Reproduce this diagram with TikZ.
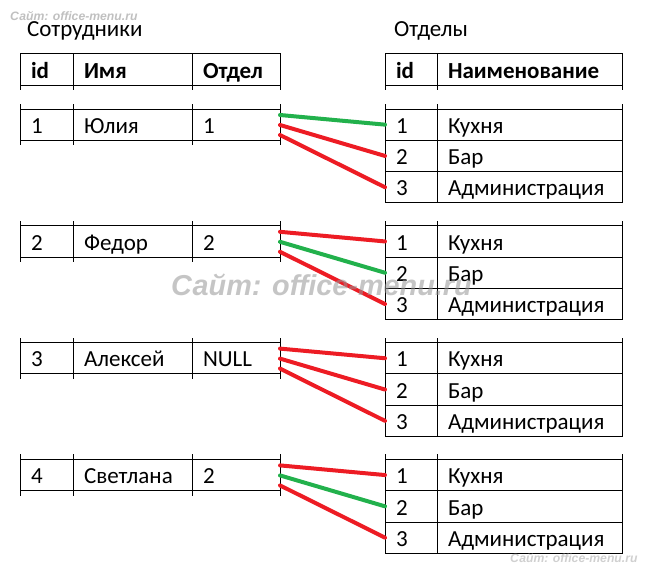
\documentclass[tikz,border=0pt]{standalone}
\usepackage{fontspec}
\setmainfont{Carlito}
\newfontfamily\wmfont{Liberation Sans}
\usetikzlibrary{positioning,calc}
\definecolor{okgreen}{RGB}{34,177,76}
\definecolor{badred}{RGB}{237,28,36}
\definecolor{wmgray}{RGB}{150,150,150}

\begin{document}
\begin{tikzpicture}[x=1pt,y=-1pt,
    cell/.style={draw,line width=1pt,anchor=north west,outer sep=0pt,
      minimum height=31.3pt,inner xsep=11pt,inner ysep=0pt,
      text width=#1,text height=19pt,text depth=1.7pt,align=left,
      font=\fontsize{23}{26}\selectfont},
    head/.style={cell=#1,font=\fontsize{23}{26}\selectfont\bfseries},
    stub/.style={line width=1pt},
    link/.style={line width=4pt,line cap=round,draw=badred},
    ok/.style={link,draw=okgreen},
    wmark/.style={anchor=base west,inner sep=0pt,text=wmgray,text opacity=#1},
  ]
  \useasboundingbox (0,0) rectangle (647,578);
  % titles
  \node[anchor=base west,inner sep=0pt,font=\fontsize{23}{26}\selectfont]
    (emp-title) at (27,37) {Сотрудники};
  \node[anchor=base west,inner sep=0pt,font=\fontsize{23}{26}\selectfont]
    (dep-title) at (394,37) {Отделы};
  % header rows
  \node[head=31pt]                       (h-id)   at (20,54) {id};
  \node[head=97pt,right=0pt of h-id]     (h-name) {Имя};
  \node[head=66pt,right=0pt of h-name]   (h-dep)  {Отдел};
  \node[head=30pt]                       (g-id)   at (385,54) {id};
  \node[head=163pt,right=0pt of g-id]    (g-name) {Наименование};
  \foreach \c in {h-id.south west,h-id.south east,h-name.south east,h-dep.south east,
                  g-id.south west,g-id.south east,g-name.south east}
    \draw[stub] (\c) -- ++(0,5);
  % one block per employee
  \foreach \k/\eid/\ename/\edep/\good in
      {0/1/Юлия/1/1, 1/2/Федор/2/2, 2/3/Алексей/NULL/0, 3/4/Светлана/2/2} {
    \node[cell=31pt]                       (e\k-id)   at (20,{109+116.8*\k}) {\eid};
    \node[cell=97pt,right=0pt of e\k-id]   (e\k-name) {\ename};
    \node[cell=66pt,right=0pt of e\k-name] (e\k-dep)  {\edep};
    \node[cell=30pt]                       (d\k-1) at (385,{109+116.8*\k}) {1};
    \node[cell=163pt,right=0pt of d\k-1]   (n\k-1) {Кухня};
    \node[cell=30pt,below=0pt of d\k-1]    (d\k-2) {2};
    \node[cell=163pt,right=0pt of d\k-2]   (n\k-2) {Бар};
    \node[cell=30pt,below=0pt of d\k-2]    (d\k-3) {3};
    \node[cell=163pt,right=0pt of d\k-3]   (n\k-3) {Администрация};
    \foreach \c in {e\k-id.north west,e\k-id.north east,e\k-name.north east,e\k-dep.north east,
                    d\k-1.north west,d\k-1.north east,n\k-1.north east}
      \draw[stub] (\c) -- ++(0,-5);
    \foreach \c in {e\k-id.south west,e\k-id.south east,e\k-name.south east,e\k-dep.south east}
      \draw[stub] (\c) -- ++(0,5);
    \coordinate (s\k-1) at ($(e\k-dep.north east)+(0,6)$);
    \coordinate (s\k-2) at ($(e\k-dep.north east)+(0,16)$);
    \coordinate (s\k-3) at ($(e\k-dep.north east)+(0,26)$);
    \foreach \r in {1,2,3} {
      \ifnum\r=\good \def\lk{ok}\else\def\lk{link}\fi
      \draw[\lk] (s\k-\r) -- (d\k-\r.west);
    }
  }
  % watermarks
  \node[wmark=0.6,font=\wmfont\bfseries\itshape\fontsize{12.2}{13}\selectfont]
    (wm-top) at (10,21) {Сайт: office-menu.ru};
  \node[wmark=0.55,font=\wmfont\bfseries\itshape\fontsize{28.8}{30}\selectfont]
    (wm-mid) at (171,295) {Сайт: office-menu.ru};
  \node[wmark=0.45,font=\wmfont\bfseries\itshape\fontsize{12.2}{13}\selectfont]
    (wm-bot) at (510,562) {Сайт: office-menu.ru};
\end{tikzpicture}
\end{document}
